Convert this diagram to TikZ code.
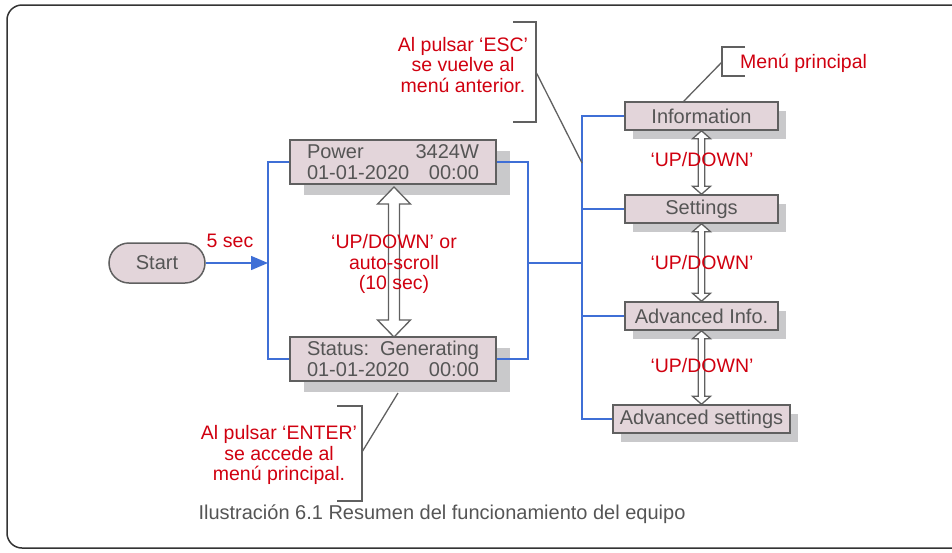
\documentclass[tikz,border=0pt]{standalone}
\usepackage{fontspec}
\setmainfont{Liberation Sans}
\usetikzlibrary{arrows.meta,shadows,calc}
\definecolor{boxfill}{HTML}{E3D5DA}
\definecolor{boxdraw}{HTML}{606060}
\definecolor{shadowc}{HTML}{C9C9CB}
\definecolor{txtgray}{HTML}{555555}
\definecolor{linkblue}{HTML}{3F6FD6}
\definecolor{notered}{HTML}{D0000F}
\newcommand\lcdline[2]{\hbox to 172pt{#1\hfill #2}}
\newcommand\hollowud[5]{%
  \draw[hollow] let \p1=(#1), \p2=(#2) in
    (\x1,\y1) -- (\x1+#4,\y1-#5) -- (\x1+#3,\y1-#5) -- (\x1+#3,\y2+#5)
    -- (\x1+#4,\y2+#5) -- (\x1,\y2) -- (\x1-#4,\y2+#5) -- (\x1-#3,\y2+#5)
    -- (\x1-#3,\y1-#5) -- (\x1-#4,\y1-#5) -- cycle;}
\begin{document}
\begin{tikzpicture}[x=1pt,y=-1pt,
  every node/.style={inner sep=0pt},
  graytext/.style={text=txtgray, font=\fontsize{20}{21.5}\selectfont},
  menubox/.style={graytext, draw=boxdraw, line width=1.5pt, fill=boxfill,
    minimum width=153, minimum height=28,
    drop shadow={shadow xshift=8pt, shadow yshift=-9pt, fill=shadowc, opacity=1}},
  lcdbox/.style={graytext, draw=boxdraw, line width=1.5pt, fill=boxfill,
    minimum width=206, minimum height=44, align=center,
    drop shadow={shadow xshift=14pt, shadow yshift=-11pt, fill=shadowc, opacity=1}},
  startbox/.style={graytext, draw=boxdraw, line width=1.5pt, fill=boxfill,
    minimum width=96, minimum height=40, rounded corners=20pt},
  bus/.style={draw=linkblue, line width=1.5pt},
  note/.style={text=notered, font=\fontsize{19.5}{20.5}\selectfont, align=center},
  bracket/.style={draw=boxdraw, line width=1.3pt},
  hollow/.style={draw=boxdraw, fill=white, line width=1.3pt, line join=miter},
]
\useasboundingbox (0,0) rectangle (952,552);
\draw[line width=1.5pt, draw=black!80, rounded corners=15pt] (952,5) -- (7,5) -- (7,548) -- (952,548);

% nodes
\node[startbox] (start) at (157,263) {Start};
\node[lcdbox] (power) at (393,162) {\lcdline{Power}{3424W}\\\lcdline{01-01-2020}{00:00}};
\node[lcdbox] (status) at (393,359) {\lcdline{Status:}{Generating}\\\lcdline{01-01-2020}{00:00}};
\node[menubox] (info) at (701.5,116) {Information};
\node[menubox] (settings) at (701.5,209) {Settings};
\node[menubox] (advinfo) at (701.5,316) {Advanced Info.};
\node[menubox, minimum width=177] (advset) at (701.5,419) {Advanced settings};

% junctions
\coordinate (j1) at (268,263);
\coordinate (j2) at (528,263);
\coordinate (j3) at (582,263);

% blue connectors
\draw[bus, -{Triangle[length=17pt,width=14pt]}] (start) -- (j1);
\node[note] (fivesec) at (230,241) {5 sec};
\draw[bus] (power.west) -| (j1) |- (status.west);
\draw[bus] (power.east) -| (j2) |- (status.east);
\draw[bus] (j2) -- (j3);
\draw[bus] (info.west) -| (j3) |- (advset.west);
\draw[bus] (settings.west) -- (settings.west -| j3);
\draw[bus] (advinfo.west) -- (advinfo.west -| j3);

% hollow double arrows
\coordinate (bigtop) at (394,187);
\coordinate (bigbot) at (394,337);
\hollowud{bigtop}{bigbot}{5.5pt}{16.5pt}{17pt}
\hollowud{info.south}{settings.north}{3.3pt}{9pt}{8pt}
\hollowud{settings.south}{advinfo.north}{3.3pt}{9pt}{8pt}
\hollowud{advinfo.south}{advset.north}{3.3pt}{9pt}{8pt}

% labels on arrows
\node[note] (udmain) at (394,264) {‘UP/DOWN’ or\\auto-scroll\\(10 sec)};
\node[note] (ud1) at (702,160) {‘UP/DOWN’};
\node[note] (ud2) at (702,263) {‘UP/DOWN’};
\node[note] (ud3) at (702,366) {‘UP/DOWN’};

% ESC note
\node[note] (escnote) at (463,65) {Al pulsar ‘ESC’\\se vuelve al\\menú anterior.};
\draw[bracket] (513,22) -- (536,22) -- (536,122) -- (513,122);
\coordinate (escmid) at (536,72);
\coordinate (escend) at (582,163);
\draw[bracket] (escmid) -- (escend);

% Menu principal note
\node[note, anchor=west] (mainnote) at (740,63) {Menú principal};
\draw[bracket] (745,47) -- (722,47) -- (722,76) -- (745,76);
\coordinate (mainmid) at (722,62);
\coordinate (infotop) at (683,102);
\draw[bracket] (mainmid) -- (infotop);

% ENTER note
\node[note] (enternote) at (279,455) {Al pulsar ‘ENTER’\\se accede al\\menú principal.};
\draw[bracket] (337,406) -- (362,406) -- (362,501) -- (337,501);
\coordinate (entermid) at (362,452);
\coordinate (statusbot) at (398,393);
\draw[bracket] (entermid) -- (statusbot);

% caption
\node[text=txtgray, font=\fontsize{20}{22}\selectfont] (caption) at (442,514)
  {Ilustración 6.1 Resumen del funcionamiento del equipo};
\end{tikzpicture}
\end{document}
